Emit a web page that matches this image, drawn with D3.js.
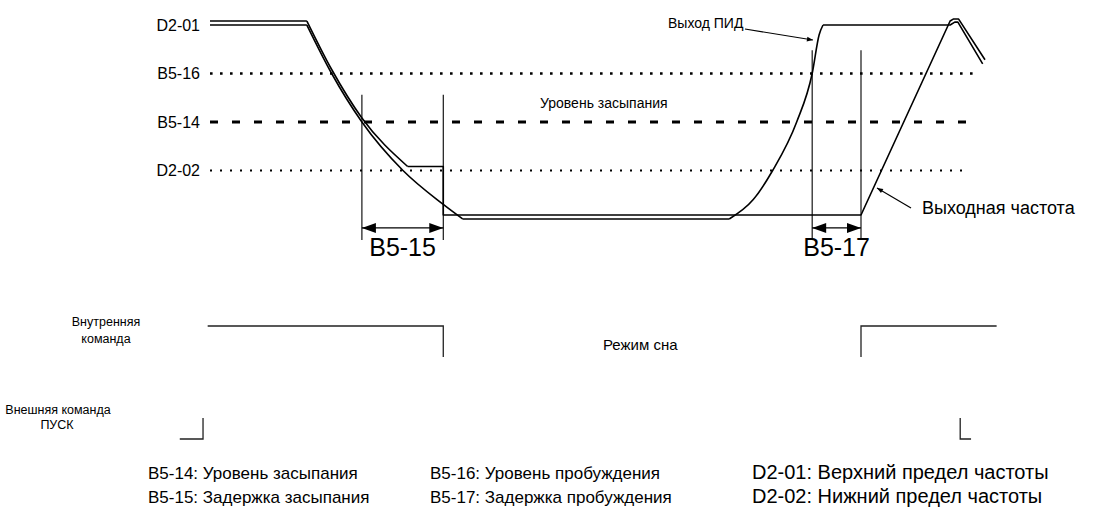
<!DOCTYPE html>
<html>
<head>
<meta charset="utf-8">
<script src="https://cdn.jsdelivr.net/npm/d3@7"></script>
<style>
  html, body { margin: 0; padding: 0; background: #fff; }
  svg { display: block; font-family: "Liberation Sans", Arial, Helvetica, sans-serif; }
</style>
</head>
<body>
<svg id="chart" width="1118" height="520"></svg>
<script>
// Frequency levels, % of maximum output frequency
const levelNames  = ["D2-01", "B5-16", "B5-14", "D2-02"];
const levelValues = [100, 75, 50, 25];
const levelEnds   = [null, 99.1, 98.1, 97.4];   // where each reference line stops (time)

// PID output (time, %)
const pidHoldTime   = [0, 12.5];
const pidHoldValue  = [100, 100];
const pidDecelTime  = [12.5, 15.7, 19.6, 24.9, 30.1, 32.6];
const pidDecelValue = [100, 75, 50, 25, 7.5, 0];
const pidIdleTime   = [32.6, 67];
const pidIdleValue  = [0, 0];
const pidRiseTime   = [67, 70.1, 72.6, 75.7, 77.7, 78.6, 79.1];
const pidRiseValue  = [0, 10, 25, 50, 75, 95, 100];
const pidTailTime   = [79.1, 95.5, 96.1, 96.5, 99.7];
const pidTailValue  = [100, 100, 101.5, 101.5, 80];

// Output frequency (time, %)
const freqHoldTime   = [0, 12.5];
const freqHoldValue  = [100, 100];
const freqDecelTime  = [12.5, 15.7, 19.6, 25.5];
const freqDecelValue = [100, 75, 50, 25];
const freqStepTime   = [25.5, 30.1, 30.1, 84, 95.5, 95.9, 96.6, 100];
const freqStepValue  = [25, 25, 0, 0, 100, 101, 101, 80];

// Timer intervals
const delayNames = ["B5-15", "B5-17"];
const delayFrom  = [19.6, 77.7];
const delayTo    = [30.1, 84];
const delayTop   = [64, 87];

// Internal command / external RUN command edges (time, state)
const internalCmdTime  = [[-0.3, 30.1, 30.1], [84, 84, 101.5]];
const internalCmdState = [[1, 1, 0], [0, 1, 1]];
const runCmdTime  = [[-3.9, -0.9, -0.9], [96.8, 96.8, 98.2]];
const runCmdState = [[0, 0, 1], [1, 0, 0]];

// Legend
const legendCodes = ["B5-14", "B5-15", "B5-16", "B5-17", "D2-01", "D2-02"];
const legendTexts = ["Уровень засыпания", "Задержка засыпания", "Уровень пробуждения",
                     "Задержка пробуждения", "Верхний предел частоты", "Нижний предел частоты"];

const svg = d3.select("#chart");
const x = d3.scaleLinear().domain([0, 100]).range([210, 985]);
const y = d3.scaleLinear().domain([0, 100]).range([219, 25]);
const freqShift = -4;   // draws the frequency trace just above the PID trace

const zip = (t, v) => t.map((ti, i) => [ti, v[i]]);
const lineGen = curve => d3.line().x(d => x(d[0])).y(d => y(d[1])).curve(curve);
const linear = lineGen(d3.curveLinear);
const smooth = lineGen(d3.curveMonotoneX);

// arrowhead marker for callouts
const defs = svg.append("defs");
defs.append("marker").attr("id", "tip").attr("viewBox", "0 0 10 10")
  .attr("refX", 10).attr("refY", 5).attr("markerWidth", 7).attr("markerHeight", 6)
  .attr("markerUnits", "userSpaceOnUse").attr("orient", "auto")
  .append("path").attr("d", "M0,1 L10,5 L0,9 Z").attr("fill", "#000");

// reference levels
const levelStyle = {
  "B5-16": { w: 2.6, dash: "2.6,7.4" },
  "B5-14": { w: 3.2, dash: "8,14" },
  "D2-02": { w: 2.0, dash: "2,8" }
};
levelNames.forEach((name, i) => {
  const yy = y(levelValues[i]);
  svg.append("text")
    .attr("x", 200).attr("y", yy).attr("dy", "0.36em")
    .attr("text-anchor", "end").attr("font-size", 16).attr("fill", "#000")
    .text(name);
  if (levelEnds[i] != null) {
    const st = levelStyle[name];
    svg.append("line")
      .attr("x1", x(0)).attr("x2", x(levelEnds[i]))
      .attr("y1", yy).attr("y2", yy)
      .attr("stroke", "#000").attr("stroke-width", st.w)
      .attr("stroke-dasharray", st.dash);
  }
});

// PID output trace
const trace = svg.append("g").attr("fill", "none").attr("stroke", "#000")
  .attr("stroke-width", 1.6).attr("stroke-linejoin", "round");
trace.append("path").attr("d", linear(zip(pidHoldTime, pidHoldValue)));
trace.append("path").attr("d", smooth(zip(pidDecelTime, pidDecelValue)));
trace.append("path").attr("d", linear(zip(pidIdleTime, pidIdleValue)));
trace.append("path").attr("d", smooth(zip(pidRiseTime, pidRiseValue)));
trace.append("path").attr("d", linear(zip(pidTailTime, pidTailValue)));

// output frequency trace
const freq = trace.append("g").attr("transform", `translate(0,${freqShift})`);
freq.append("path").attr("d", linear(zip(freqHoldTime, freqHoldValue)));
freq.append("path").attr("d", smooth(zip(freqDecelTime, freqDecelValue)));
freq.append("path").attr("d", linear(zip(freqStepTime, freqStepValue)));

// delay timers: boundaries, double arrows, labels
const arrowV = -4.6;
delayNames.forEach((name, i) => {
  const x0 = x(delayFrom[i]), x1 = x(delayTo[i]);
  const yTop = y(delayTop[i]), yBot = y(arrowV) + 12;
  [x0, x1].forEach(xx => svg.append("line")
    .attr("x1", xx).attr("x2", xx).attr("y1", yTop).attr("y2", yBot)
    .attr("stroke", "#000").attr("stroke-width", 1.1));
  const ya = y(arrowV);
  svg.append("line").attr("x1", x0).attr("x2", x1).attr("y1", ya).attr("y2", ya)
    .attr("stroke", "#000").attr("stroke-width", 1.1);
  const L = 14, H = 5;
  svg.append("path")
    .attr("d", `M${x0},${ya} L${x0 + L},${ya - H} L${x0 + L},${ya + H} Z M${x1},${ya} L${x1 - L},${ya - H} L${x1 - L},${ya + H} Z`)
    .attr("fill", "#000");
  svg.append("text")
    .attr("x", (x0 + x1) / 2).attr("y", ya + 28)
    .attr("text-anchor", "middle").attr("font-size", 25).attr("fill", "#000")
    .text(name);
});

// annotations
const note = (tx, ty, str, size, anchor) => svg.append("text")
  .attr("x", tx).attr("y", ty).attr("font-size", size).attr("fill", "#000")
  .attr("text-anchor", anchor || "start").text(str);
note(540, 108, "Уровень засыпания", 14);
note(668, 28, "Выход ПИД", 14);
svg.append("line").attr("x1", 745).attr("y1", 29).attr("x2", x(77.8)).attr("y2", 40)
  .attr("stroke", "#000").attr("stroke-width", 1.2).attr("marker-end", "url(#tip)");
note(922, 214, "Выходная частота", 18);
svg.append("line").attr("x1", 911).attr("y1", 208).attr("x2", 877).attr("y2", 188)
  .attr("stroke", "#000").attr("stroke-width", 1.2).attr("marker-end", "url(#tip)");

// command signals
const yInt = d3.scaleLinear().domain([0, 1]).range([357, 326]);
const yRun = d3.scaleLinear().domain([0, 1]).range([439, 418]);
const stepLine = (sy) => d3.line().x(d => x(d[0])).y(d => sy(d[1]));
const cmd = svg.append("g").attr("fill", "none").attr("stroke", "#222").attr("stroke-width", 1.3);
internalCmdTime.forEach((t, i) => cmd.append("path").attr("d", stepLine(yInt)(zip(t, internalCmdState[i]))));
runCmdTime.forEach((t, i) => cmd.append("path").attr("d", stepLine(yRun)(zip(t, runCmdState[i]))));

note(106, 326, "Внутренняя", 12.5, "middle");
note(106, 343, "команда", 12.5, "middle");
note(603, 350, "Режим сна", 15);
note(58, 414, "Внешняя команда", 12.5, "middle");
note(57, 429, "ПУСК", 12.5, "middle");

// legend
const colX = [148, 430, 752], rowY = [479, 503];
const colSize = [17, 17, 20];
legendCodes.forEach((code, i) => {
  const c = Math.floor(i / 2);
  svg.append("text")
    .attr("x", colX[c]).attr("y", rowY[i % 2])
    .attr("font-size", colSize[c]).attr("fill", "#000")
    .text(`${code}: ${legendTexts[i]}`);
});
</script>
</body>
</html>
